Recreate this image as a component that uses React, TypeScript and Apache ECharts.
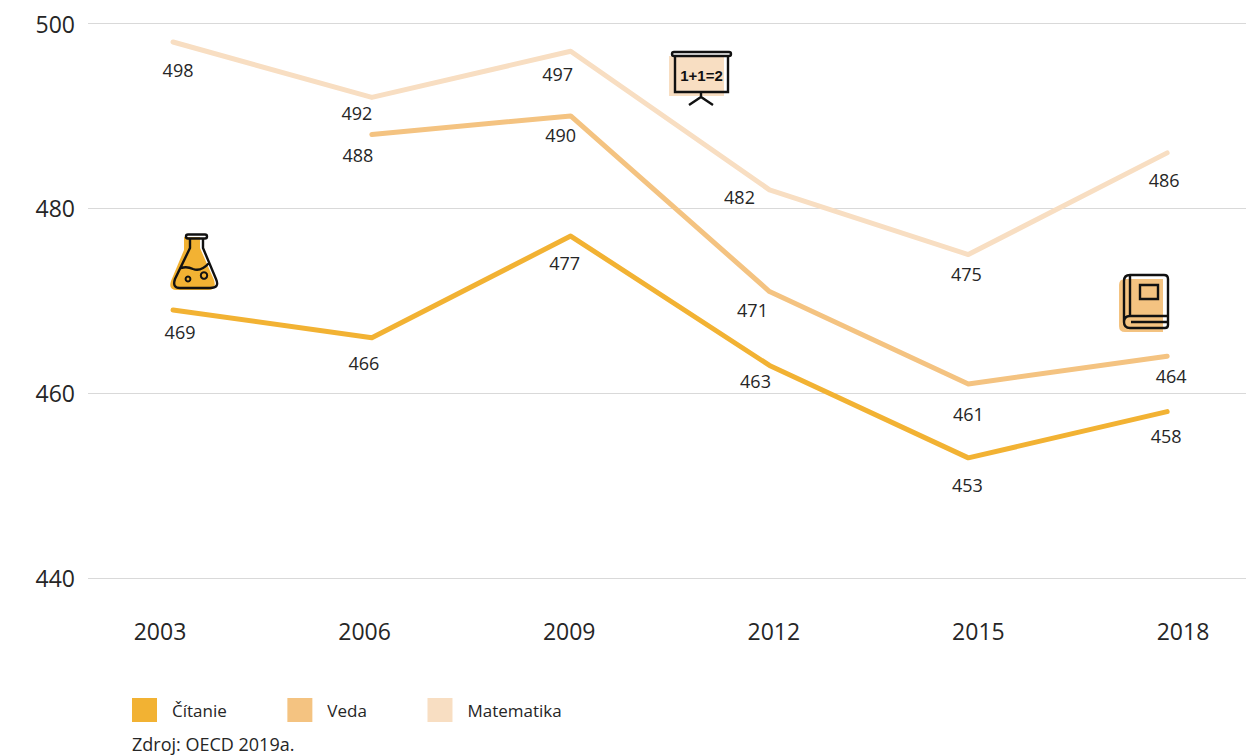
import React, { useEffect, useRef } from "react";
import * as echarts from "echarts";

const years = [2003, 2006, 2009, 2012, 2015, 2018];
const citanie = [469, 466, 477, 463, 453, 458];
const veda = [null, 488, 490, 471, 461, 464];
const matematika = [498, 492, 497, 482, 475, 486];
const yTicks = { min: 440, max: 500, interval: 20 };

const citanieOffsets = [[7, 22], [-8, 25], [-6, 27], [-14, 16], [-1, 27], [-1, 24]];
const vedaOffsets = [[0, 0], [-14, 21], [-10, 19], [-17, 18.5], [0, 30], [4, 20]];
const matematikaOffsets = [[5, 28], [-15, 16], [-13, 23], [-30, 7], [-2, 19], [-3, 27]];

const FONT = '"Open Sans", sans-serif';
const C1 = "#F2B233";
const C2 = "#F4C381";
const C3 = "#F8DEC2";
const INK = "#111111";
const TEXT = "#262626";

echarts.graphic.registerShape("flaskFill", echarts.graphic.extendPath("M184 237 H200 V248 L214 280 Q217 290 208 290 H177 Q168 290 171 281 L184 250 Z", {}));
echarts.graphic.registerShape("flaskLine", echarts.graphic.extendPath("M188 234.5 H205 Q207 234.5 207 236.5 Q207 238.5 205 238.5 H188 Q186 238.5 186 236.5 Q186 234.5 188 234.5 Z M190 238.5 V248 L175 279 Q172 288 180 288 H210 Q220 288 216 279 L203 248 V238.5 M181 268 Q187 266 193 269 Q201 272 209 263", {}));
echarts.graphic.registerShape("bookFill", echarts.graphic.extendPath("M1125 279 H1163 V332 H1125 Q1119 332 1119 326 V285 Q1119 279 1125 279 Z", {}));
echarts.graphic.registerShape("bookLine", echarts.graphic.extendPath("M1130 275 H1164 Q1168 275 1168 279 V325 Q1168 328 1165 328 H1130 Q1124 328 1124 322 Q1124 316 1130 316 H1168 M1124 322 V281 Q1124 275 1130 275 M1130 275 V316 M1131 322 H1167 M1140 285 H1158 V299 H1140 Z", {}));
echarts.graphic.registerShape("boardLine", echarts.graphic.extendPath("M674 52 H729 Q731 52 731 54 Q731 56 729 56 H674 Q672 56 672 54 Q672 52 674 52 Z M675 56 V92 H728 V56 M701 92 V98 M689 105 L701 97 L713 105", {}));
echarts.graphic.registerShape("boardFill", echarts.graphic.extendPath("M669 56 H724 V96 H669 Z", {}));

function makeSeries(name: string, values: (number | null)[], offsets: number[][], color: string) {
  return {
    name,
    type: "line",
    xAxisIndex: 0,
    yAxisIndex: 0,
    symbol: "circle",
    symbolSize: 0,
    showSymbol: true,
    connectNulls: false,
    lineStyle: { color, width: 5, cap: "round", join: "round" },
    itemStyle: { color, opacity: 1 },
    data: values.map((v, i) => ({
      value: [years[i], v],
      label: {
        show: v !== null,
        position: [0, 0],
        align: "center",
        verticalAlign: "middle",
        offset: offsets[i],
        formatter: String(v),
        fontFamily: FONT,
        fontSize: 18,
        color: TEXT,
      },
    })),
  };
}

export default function App() {
  const ref = useRef<HTMLDivElement>(null);
  useEffect(() => {
    document.body.style.margin = "0";
    document.body.style.overflow = "hidden";
    const chart = echarts.init(ref.current!, null, { renderer: "svg" });
    chart.setOption({
      animation: false,
      backgroundColor: "#ffffff",
      grid: { left: 88, right: 0, top: 23.5, height: 554.5, containLabel: false },
      xAxis: [
        {
          type: "value",
          min: 2001.717,
          max: 2019.19,
          show: false,
        },
        {
          type: "value",
          position: "bottom",
          min: 2001.944,
          max: 2018.924,
          axisLine: { show: false },
          axisTick: { show: false },
          splitLine: { show: false },
          axisLabel: {
            customValues: years,
            formatter: (v: number) => String(v),
            margin: 41,
            fontFamily: FONT,
            fontSize: 23,
            color: TEXT,
          },
        },
      ],
      yAxis: {
        type: "value",
        ...yTicks,
        axisLine: { show: false },
        axisTick: { show: false },
        axisLabel: { margin: 13, fontFamily: FONT, fontSize: 23, color: TEXT },
        splitLine: { lineStyle: { color: "#D9D9D9", width: 1 } },
      },
      legend: {
        left: 132,
        top: 698,
        padding: 0,
        icon: "rect",
        itemWidth: 25,
        itemHeight: 24,
        itemGap: 60.6,
        data: ["Čítanie", "Veda", "Matematika"],
        textStyle: { fontFamily: FONT, fontSize: 17, color: TEXT, padding: [0, 0, 0, 10] },
      },
      title: {
        text: "Zdroj: OECD 2019a.",
        left: 132,
        top: 735,
        padding: 0,
        textStyle: { fontFamily: FONT, fontSize: 18, fontWeight: "normal", color: TEXT },
      },
      series: [
        makeSeries("Čítanie", citanie, citanieOffsets, C1),
        makeSeries("Veda", veda, vedaOffsets, C2),
        makeSeries("Matematika", matematika, matematikaOffsets, C3),
      ],
      graphic: [
        { type: "flaskFill", z: 10, style: { fill: C1 } },
        { type: "flaskLine", z: 11, style: { fill: "none", stroke: INK, lineWidth: 2.4 } },
        { type: "circle", z: 11, shape: { cx: 188, cy: 279, r: 2.4 }, style: { fill: "none", stroke: INK, lineWidth: 2 } },
        { type: "circle", z: 11, shape: { cx: 204, cy: 275.5, r: 3.2 }, style: { fill: "none", stroke: INK, lineWidth: 2 } },
        { type: "bookFill", z: 10, style: { fill: C2 } },
        { type: "bookLine", z: 11, style: { fill: "none", stroke: INK, lineWidth: 2.4 } },
        { type: "boardFill", z: 10, style: { fill: C3 } },
        { type: "boardLine", z: 11, style: { fill: "none", stroke: INK, lineWidth: 2.4 } },
        {
          type: "text",
          z: 12,
          x: 701.5,
          y: 75,
          style: { text: "1+1=2", fill: INK, font: 'bold 15px "Liberation Sans", sans-serif', textAlign: "center", textVerticalAlign: "middle" },
        },
      ],
    });
    return () => chart.dispose();
  }, []);
  return <div ref={ref} style={{ width: 1246, height: 755 }} />;
}
